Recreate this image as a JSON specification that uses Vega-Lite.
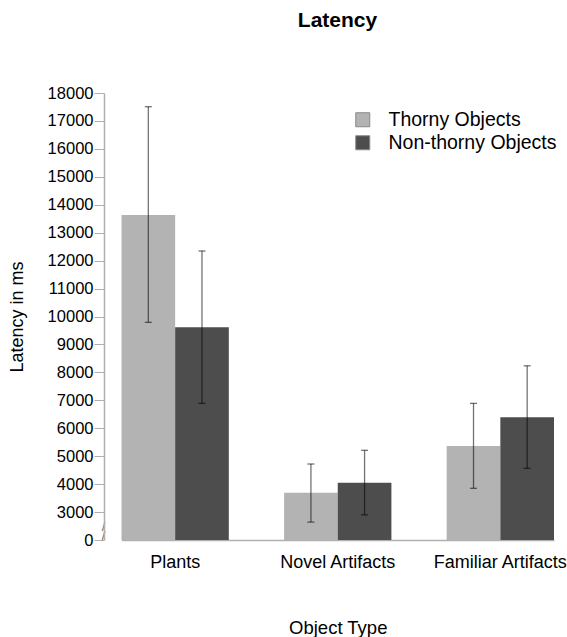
{
  "$schema": "https://vega.github.io/schema/vega-lite/v6.json",
  "width": 451,
  "height": 447,
  "autosize": {"type": "none"},
  "padding": {"left": 104, "top": 93, "right": 12, "bottom": 97},
  "config": {
    "font": "Liberation Sans",
    "view": {"stroke": null}
  },
  "title": {"text": "Latency", "fontSize": 21, "fontWeight": "bold", "color": "#000", "offset": 54, "dx": 8},
  "data": {
    "values": [
      {"type": "Plants", "group": "Thorny Objects", "mean": 13630, "lo": 9790, "hi": 17510},
      {"type": "Plants", "group": "Non-thorny Objects", "mean": 9615, "lo": 6890, "hi": 12345},
      {"type": "Novel Artifacts", "group": "Thorny Objects", "mean": 3690, "lo": 2640, "hi": 4720},
      {"type": "Novel Artifacts", "group": "Non-thorny Objects", "mean": 4050, "lo": 2900, "hi": 5210},
      {"type": "Familiar Artifacts", "group": "Thorny Objects", "mean": 5365, "lo": 3850, "hi": 6890},
      {"type": "Familiar Artifacts", "group": "Non-thorny Objects", "mean": 6395, "lo": 4565, "hi": 8235}
    ]
  },
  "encoding": {
    "x": {
      "field": "type",
      "type": "nominal",
      "sort": ["Plants", "Novel Artifacts", "Familiar Artifacts"],
      "scale": {"range": [17.5, 450], "paddingInner": 0.34, "paddingOuter": 0},
      "axis": {
        "title": "Object Type",
        "labelAngle": 0,
        "labelFontSize": 18,
        "labelColor": "#000",
        "labelPadding": 13,
        "ticks": false,
        "domainColor": "#b0b0b0",
        "domainWidth": 1.5,
        "titleFontSize": 18.5,
        "titleFontWeight": "normal",
        "titleColor": "#000",
        "titlePadding": 47
      }
    },
    "xOffset": {
      "field": "group",
      "type": "nominal",
      "sort": ["Thorny Objects", "Non-thorny Objects"],
      "scale": {"paddingInner": 0, "paddingOuter": 0}
    }
  },
  "layer": [
    {
      "mark": {"type": "bar"},
      "encoding": {
        "y": {
          "field": "mean",
          "type": "quantitative",
          "scale": {"domain": [0, 2000, 18000], "range": [447, 447, 0], "zero": false, "nice": false},
          "axis": {
            "title": "Latency in ms",
            "titleFontSize": 18,
            "titleFontWeight": "normal",
            "titleColor": "#000",
            "titlePadding": 21,
            "values": [0, 2500, 3000, 4000, 5000, 6000, 7000, 8000, 9000, 10000, 11000, 12000, 13000, 14000, 15000, 16000, 17000, 18000],
            "tickCount": 50,
            "format": "d",
            "labelExpr": "datum.value == 2500 ? ['/', '/'] : datum.label",
            "labelOverlap": false,
            "labelLineHeight": 9,
            "labelFontSize": {"condition": {"test": "datum.value == 2500", "value": 13}, "value": 16.5},
            "labelColor": {"condition": {"test": "datum.value == 2500", "value": "#666666"}, "value": "#000"},
            "labelAlign": {"condition": {"test": "datum.value == 2500", "value": "center"}, "value": "right"},
            "labelPadding": {"condition": {"test": "datum.value == 2500", "value": -9}, "value": 1},
            "tickOpacity": {"condition": {"test": "datum.value == 2500", "value": 0}, "value": 1},
            "tickSize": 10,
            "tickColor": "#b0b0b0",
            "domainColor": "#b0b0b0",
            "domainWidth": 1.5,
            "grid": false
          }
        },
        "color": {
          "field": "group",
          "type": "nominal",
          "sort": ["Thorny Objects", "Non-thorny Objects"],
          "scale": {"domain": ["Thorny Objects", "Non-thorny Objects"], "range": ["#b3b3b3", "#4d4d4d"]},
          "legend": {
            "title": null,
            "orient": "none",
            "legendX": 249,
            "legendY": 17,
            "symbolType": "square",
            "symbolSize": 196,
            "symbolStrokeColor": "#888",
            "symbolStrokeWidth": 1,
            "labelFontSize": 19.5,
            "labelLimit": 400,
            "labelColor": "#000",
            "labelOffset": 16,
            "rowPadding": 2
          }
        }
      }
    },
    {
      "mark": {"type": "rule", "color": "#000", "opacity": 0.55, "strokeWidth": 1.3},
      "encoding": {
        "y": {"field": "lo", "type": "quantitative"},
        "y2": {"field": "hi"}
      }
    },
    {
      "mark": {"type": "tick", "color": "#000", "opacity": 0.55, "thickness": 1.3, "size": 7},
      "encoding": {
        "y": {"field": "lo", "type": "quantitative"}
      }
    },
    {
      "mark": {"type": "tick", "color": "#000", "opacity": 0.55, "thickness": 1.3, "size": 7},
      "encoding": {
        "y": {"field": "hi", "type": "quantitative"}
      }
    }
  ]
}
